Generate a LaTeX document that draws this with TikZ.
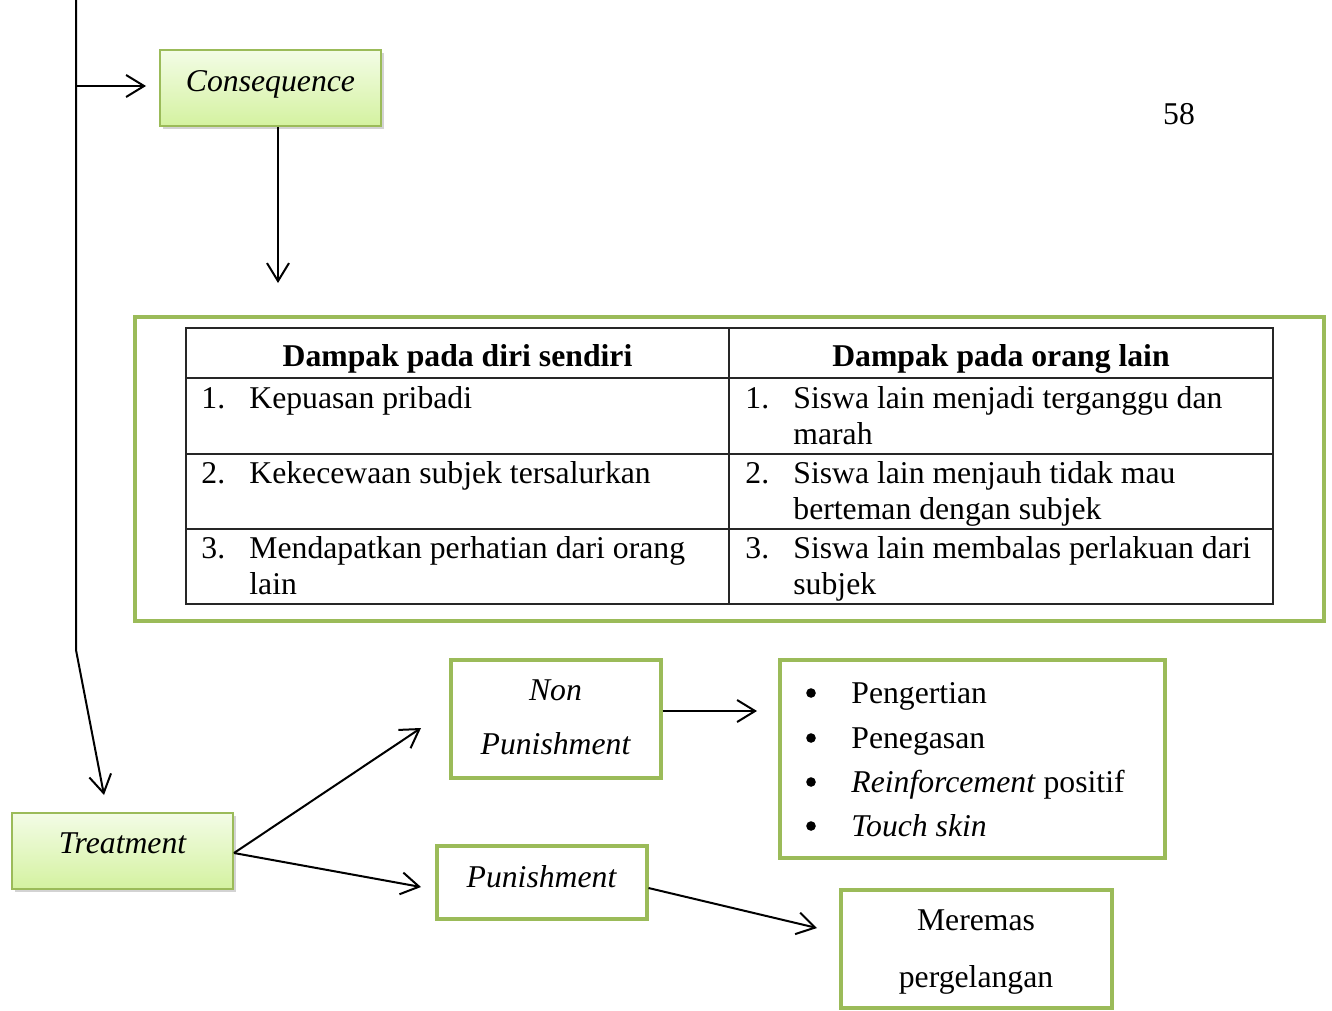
\documentclass[tikz,border=0pt]{standalone}
\usepackage{fontspec}
\setmainfont{Liberation Serif}
\usetikzlibrary{arrows.meta,shadows}
\definecolor{leaf}{HTML}{9BBB59}
\definecolor{boxtop}{HTML}{F3FCE6}
\definecolor{boxbot}{HTML}{D4F2A0}
\begin{document}
\begin{tikzpicture}[x=0.5pt,y=-0.5pt,
  font=\fontsize{15.85}{18}\selectfont,
  arr/.style={draw=black, line width=1pt, -{Straight Barb[length=9pt,width=11pt,line width=1pt]}},
  gradbox/.style={draw=leaf, line width=1pt, top color=boxtop, bottom color=boxbot,
    drop shadow={shadow xshift=1.5pt, shadow yshift=-1.5pt, opacity=0.35},
    minimum width=110.5pt, minimum height=38pt, inner sep=0pt},
  plainbox/.style={draw=leaf, line width=2pt, fill=white, inner sep=0pt},
  txt/.style={inner sep=0pt, anchor=base},
  cell/.style={inner sep=0pt, anchor=base west},
  dot/.style={circle, fill=black, minimum size=4.8pt, inner sep=0pt},
  grid/.style={draw=black!85, line width=0.75pt}]
\useasboundingbox (0,0) rectangle (1332,1011);

% page number
\node[txt] (pagenum) at (1179,125) {58};

% boxes
\node[gradbox] (cons) at (270.5,88) {};
\node[txt] (constxt) at (270.5,91) {\itshape Consequence};

\node[gradbox] (treat) at (122.5,851) {};
\node[txt] (treattxt) at (122.5,853) {\itshape Treatment};

\node[plainbox, minimum width=105pt, minimum height=59pt] (nonpun) at (555.5,719) {};
\node[txt] (nontxt) at (555.5,700) {\itshape Non};
\node[txt] (nonpuntxt) at (555.5,754) {\itshape Punishment};

\node[plainbox, minimum width=192.5pt, minimum height=99pt] (list) at (972,759) {};
\foreach \y/\t/\n in {703/Pengertian/a, 748/Penegasan/b, 792/{\textit{Reinforcement} positif}/c, 836/{\textit{Touch skin}}/d}{
  \node[dot] (bul\n) at (811,\y-10) {};
  \node[cell] (item\n) at (851,\y) {\t};
}

\node[plainbox, minimum width=105pt, minimum height=36.5pt] (pun) at (541.5,882) {};
\node[txt] (puntxt) at (541.5,887) {\itshape Punishment};

\node[plainbox, minimum width=135.5pt, minimum height=59pt] (meremas) at (976,948.5) {};
\node[txt] (mer1) at (976,930) {Meremas};
\node[txt] (mer2) at (976,987) {pergelangan};

% outer frame of the table
\draw[draw=leaf, line width=2pt] (135,317) rectangle (1324,621);

% table grid
\draw[grid] (186,328) rectangle (1273,604);
\draw[grid] (729,328) -- (729,604);
\foreach \y in {378,454,529} \draw[grid] (186,\y) -- (1273,\y);

\node[txt] (h1) at (457.5,366) {\bfseries Dampak pada diri sendiri};
\node[txt] (h2) at (1001,366) {\bfseries Dampak pada orang lain};

\node[cell] (l1n) at (201,408) {1.};
\node[cell] (l1a) at (249,408) {Kepuasan pribadi};
\node[cell] (l2n) at (201,483) {2.};
\node[cell] (l2a) at (249,483) {Kekecewaan subjek tersalurkan};
\node[cell] (l3n) at (201,558) {3.};
\node[cell] (l3a) at (249,558) {Mendapatkan perhatian dari orang};
\node[cell] (l3b) at (249,594) {lain};

\node[cell] (r1n) at (745,408) {1.};
\node[cell] (r1a) at (793,408) {Siswa lain menjadi terganggu dan};
\node[cell] (r1b) at (793,444) {marah};
\node[cell] (r2n) at (745,483) {2.};
\node[cell] (r2a) at (793,483) {Siswa lain menjauh tidak mau};
\node[cell] (r2b) at (793,519) {berteman dengan subjek};
\node[cell] (r3n) at (745,558) {3.};
\node[cell] (r3a) at (793,558) {Siswa lain membalas perlakuan dari};
\node[cell] (r3b) at (793,594) {subjek};

% connectors
\coordinate (trunktop) at (76,0);
\coordinate (trunkbend) at (76,650);
\coordinate (trunkcons) at (76,86);
\coordinate (tipcons) at (146,86);
\coordinate (tiptreat) at (104,795);
\coordinate (tiptable) at (278,283);
\coordinate (tipnon) at (421,728);
\coordinate (tippun) at (421,887);
\coordinate (tiplist) at (757,711);
\coordinate (tipmer) at (817,928);

\draw[arr] (trunktop) -- (trunkbend) -- (tiptreat);
\draw[arr] (trunkcons) -- (tipcons);
\draw[arr] (cons.south -| tiptable) -- (tiptable);
\draw[arr] (treat.east) ++(0,2) -- (tipnon);
\draw[arr] (treat.east) ++(0,2) -- (tippun);
\draw[arr] (nonpun.east |- tiplist) -- (tiplist);
\draw[arr] (pun.east) ++(0,6) -- (tipmer);
\end{tikzpicture}
\end{document}
